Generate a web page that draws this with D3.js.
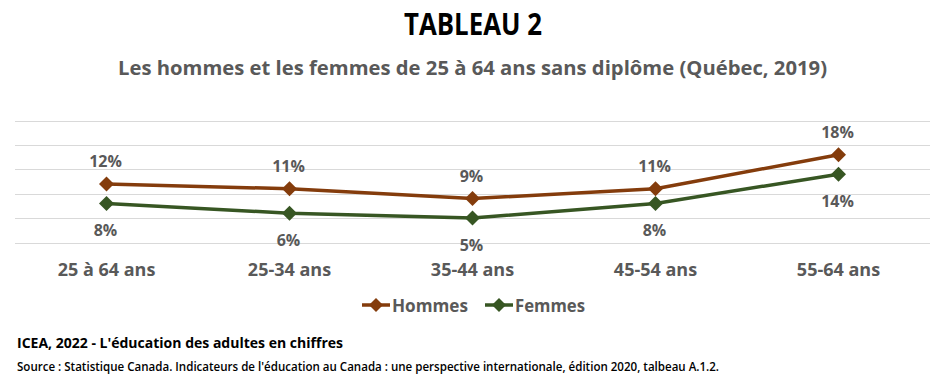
<!DOCTYPE html>
<html>
<head>
<meta charset="utf-8">
<script src="https://cdn.jsdelivr.net/npm/d3@7"></script>
<style>
  html, body { margin: 0; padding: 0; background: #fff; }
  svg { display: block; }
  text { font-family: "Open Sans", "DejaVu Sans", sans-serif; }
</style>
</head>
<body>
<svg id="chart" width="946" height="380"></svg>
<script>
const categories = ["25 à 64 ans", "25-34 ans", "35-44 ans", "45-54 ans", "55-64 ans"];
const hommes = [12, 11, 9, 11, 18];
const femmes = [8, 6, 5, 8, 14];
const yTicks = [0, 5, 10, 15, 20, 25];
const seriesNames = ["Hommes", "Femmes"];
const seriesColors = ["#843c0c", "#375623"];
const titleText = "TABLEAU 2";
const subtitleText = "Les hommes et les femmes de 25 à 64 ans sans diplôme (Québec, 2019)";
const footer1 = "ICEA, 2022 - L'éducation des adultes en chiffres";
const footer2 = "Source : Statistique Canada.  Indicateurs de l'éducation au Canada : une perspective internationale,  édition  2020, talbeau A.1.2.";

const svg = d3.select("#chart");
const W = 946, H = 380;
svg.append("rect").attr("width", W).attr("height", H).attr("fill", "#fff");

const x = d3.scaleBand().domain(categories).range([15, 930]);
const y = d3.scaleLinear().domain([0, 25]).range([242.5, 120.5]);

// Title
svg.append("text").attr("x", 473).attr("y", 35).attr("text-anchor", "middle")
  .attr("font-size", 30).attr("font-weight", 700).attr("fill", "#000")
  .attr("textLength", 138).attr("lengthAdjust", "spacingAndGlyphs").text(titleText);
svg.append("text").attr("x", 472.5).attr("y", 75).attr("text-anchor", "middle")
  .attr("font-size", 20).attr("font-weight", 700).attr("fill", "#595959")
  .attr("textLength", 709).attr("lengthAdjust", "spacingAndGlyphs").text(subtitleText);

// Gridlines
svg.append("g").selectAll("line").data(yTicks).join("line")
  .attr("x1", 15).attr("x2", 930)
  .attr("y1", d => Math.round(y(d)) + 0.5).attr("y2", d => Math.round(y(d)) + 0.5)
  .attr("stroke", "#d9d9d9").attr("stroke-width", 1);

// X axis labels
const xAxis = d3.axisBottom(x).tickSize(0).tickPadding(0);
const gx = svg.append("g").attr("transform", "translate(0,262)").call(xAxis);
gx.select(".domain").remove();
gx.selectAll("text").attr("font-size", 18).attr("font-weight", 700).attr("fill", "#595959")
  .attr("font-family", "Open Sans").attr("dy", "0.78em");

const diamondPath = (cx, cy, r) => `M${cx},${cy - r}L${cx + r},${cy}L${cx},${cy + r}L${cx - r},${cy}Z`;

const series = [hommes, femmes];
const line = d3.line().x((d, i) => x(categories[i]) + x.bandwidth() / 2).y(d => y(d));

series.forEach((vals, si) => {
  const g = svg.append("g");
  g.append("path").datum(vals).attr("d", line).attr("fill", "none")
    .attr("stroke", seriesColors[si]).attr("stroke-width", 3.5)
    .attr("stroke-linejoin", "round").attr("stroke-linecap", "round");
  g.selectAll("path.m").data(vals).join("path").attr("class", "m")
    .attr("d", (d, i) => diamondPath(x(categories[i]) + x.bandwidth() / 2, y(d), 7.5))
    .attr("fill", seriesColors[si]);
  g.selectAll("text").data(vals).join("text")
    .attr("x", (d, i) => x(categories[i]) + x.bandwidth() / 2 - 1)
    .attr("y", d => si === 0 ? y(d) - 16.5 : y(d) + 32.5)
    .attr("text-anchor", "middle").attr("font-size", 16).attr("font-weight", 700)
    .attr("fill", "#595959").text(d => d3.format(".0f")(d) + "%");
});

// Legend
const legendItems = [
  { name: seriesNames[0], color: seriesColors[0], x0: 362 },
  { name: seriesNames[1], color: seriesColors[1], x0: 485 }
];
const ly = 305;
legendItems.forEach(it => {
  svg.append("line").attr("x1", it.x0).attr("x2", it.x0 + 28).attr("y1", ly).attr("y2", ly)
    .attr("stroke", it.color).attr("stroke-width", 3.5);
  svg.append("path").attr("d", diamondPath(it.x0 + 14, ly, 7)).attr("fill", it.color);
  svg.append("text").attr("x", it.x0 + 30).attr("y", ly + 6.5)
    .attr("font-size", 18).attr("font-weight", 700).attr("fill", "#595959")
    .attr("textLength", it.name === "Hommes" ? 76 : 70).attr("lengthAdjust", "spacingAndGlyphs").text(it.name);
});

// Footer
svg.append("text").attr("x", 17).attr("y", 348).attr("font-size", 15).attr("font-weight", 700)
  .attr("fill", "#000").attr("textLength", 326).attr("lengthAdjust", "spacingAndGlyphs").text(footer1);
svg.append("text").attr("x", 17).attr("y", 371).attr("font-size", 12).attr("font-weight", 600)
  .attr("fill", "#000").attr("textLength", 702).attr("lengthAdjust", "spacingAndGlyphs").text(footer2);
</script>
</body>
</html>
